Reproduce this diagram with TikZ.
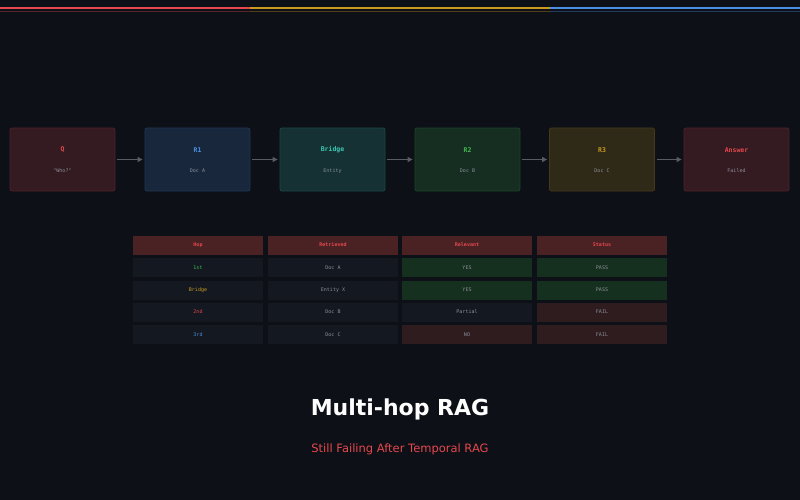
\documentclass[tikz,border=0pt]{standalone}
\usepackage{fontspec}
\setmainfont{DejaVu Sans}
\newfontfamily\monof{DejaVu Sans Mono}
\usetikzlibrary{arrows.meta}
\definecolor{bg}{HTML}{0D1017}
\definecolor{cred}{HTML}{E5484D}
\definecolor{cgold}{HTML}{C99A1E}
\definecolor{cblue}{HTML}{4A90E2}
\definecolor{cteal}{HTML}{3CC8B4}
\definecolor{cgreen}{HTML}{3FB950}
\definecolor{txt}{HTML}{8B8F98}
\definecolor{cellbg}{HTML}{141820}
\definecolor{hdrbg}{HTML}{4A2224}
\definecolor{grnbg}{HTML}{16301F}
\definecolor{redbg}{HTML}{2E1C1F}
\tikzset{
 stage/.style={draw=#1!30!bg, fill=#1!18!bg, rounded corners=2pt, minimum width=105pt, minimum height=63pt, line width=0.8pt},
 ttl/.style={font=\monof\fontsize{6.5}{7}\selectfont\bfseries},
 sub/.style={font=\monof\fontsize{5}{6}\selectfont, text=txt},
 cell/.style={fill=#1, minimum width=130pt, minimum height=19pt, inner sep=0pt, font=\monof\fontsize{5}{6}\selectfont, text=txt},
 arr/.style={draw=txt!60!bg, line width=1.8pt, shorten <=2pt, shorten >=2pt, -{Triangle[length=5pt,width=5pt]}}
}
\begin{document}
\begin{tikzpicture}[x=1pt,y=-1pt]
\fill[bg] (0,0) rectangle (800,500);
\useasboundingbox (0,0) rectangle (800,500);
\draw[cred, line width=1.5pt] (0,8) -- (250,8);
\draw[cgold, line width=1.5pt] (250,8) -- (550,8);
\draw[cblue, line width=1.5pt] (550,8) -- (800,8);
\draw[cred!35!bg, line width=1pt] (0,12) -- (250,12);
\draw[cgold!35!bg, line width=1pt] (250,12) -- (550,12);
\draw[cblue!35!bg, line width=1pt] (550,12) -- (800,12);
\foreach \n/\x/\c/\t/\s in {q/62.5/cred/Q/"Who?", r1/197.5/cblue/R1/Doc A, br/332.5/cteal/Bridge/Entity, r2/467.5/cgreen/R2/Doc B, r3/602/cgold/R3/Doc C, ans/736.5/cred/Answer/Failed}{
 \node[stage=\c] (\n) at (\x,159.5) {};
 \node[ttl, text=\c] (\n t) at (\x,150) {\t};
 \node[sub] (\n s) at (\x,171) {\s};
}
\draw[arr] (q) -- (r1); \draw[arr] (r1) -- (br); \draw[arr] (br) -- (r2); \draw[arr] (r2) -- (r3); \draw[arr] (r3) -- (ans);
% table
\foreach \h/\x in {Hop/198, Retrieved/333, Relevant/467, Status/602}{
 \node[cell=hdrbg, text=cred, font=\monof\fontsize{5}{6}\selectfont\bfseries] (h\h) at (\x,245) {\h};}
\node[cell=cellbg,text=cgreen] (a1) at (198,267.5) {1st};
\node[cell=cellbg] (a2) at (333,267.5) {Doc A};
\node[cell=grnbg] (a3) at (467,267.5) {YES};
\node[cell=grnbg] (a4) at (602,267.5) {PASS};
\node[cell=cellbg,text=cgold] (b1) at (198,290) {Bridge};
\node[cell=cellbg] (b2) at (333,290) {Entity X};
\node[cell=grnbg] (b3) at (467,290) {YES};
\node[cell=grnbg] (b4) at (602,290) {PASS};
\node[cell=cellbg,text=cred] (c1) at (198,312) {2nd};
\node[cell=cellbg] (c2) at (333,312) {Doc B};
\node[cell=cellbg] (c3) at (467,312) {Partial};
\node[cell=redbg] (c4) at (602,312) {FAIL};
\node[cell=cellbg,text=cblue] (d1) at (198,334.5) {3rd};
\node[cell=cellbg] (d2) at (333,334.5) {Doc C};
\node[cell=redbg] (d3) at (467,334.5) {NO};
\node[cell=redbg] (d4) at (602,334.5) {FAIL};
\node[text=white, font=\fontsize{22}{26}\selectfont\bfseries] (title) at (400,409.5) {Multi-hop RAG};
\node[text=cred, font=\fontsize{11.5}{13}\selectfont] (subt) at (400,449.5) {Still Failing After Temporal RAG};
\end{tikzpicture}
\end{document}
